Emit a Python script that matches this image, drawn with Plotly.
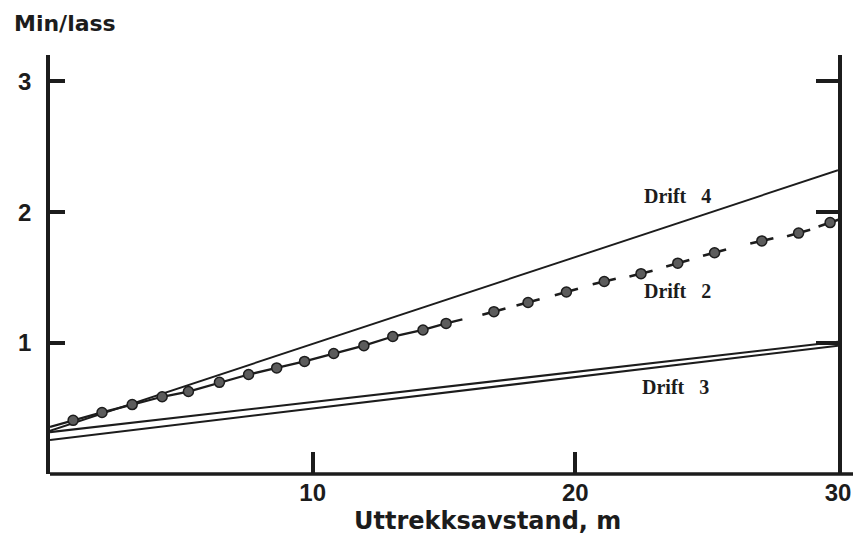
import numpy as np
import plotly.graph_objects as go

# ---- data ----
x_ticks = [10, 20, 30]
x_tick_labels = ["10", "20", "30"]
y_ticks = [1, 2, 3]
y_tick_labels = ["1", "2", "3"]

# Drift 4 (straight line)
drift4_x = [0, 30]
drift4_y = [0.33, 2.32]

# Drift 3 (two nearly parallel lines)
drift3a_x = [0, 30]
drift3a_y = [0.32, 1.01]
drift3b_x = [0, 30]
drift3b_y = [0.26, 0.98]

# Drift 2, solid part with dots
drift2_start_x = [0.0]
drift2_start_y = [0.36]
drift2_solid_x = [0.88, 1.98, 3.13, 4.27, 5.27, 6.45, 7.56, 8.63, 9.69, 10.80, 11.95, 13.05, 14.20, 15.08]
drift2_solid_y = [0.41, 0.47, 0.53, 0.59, 0.63, 0.70, 0.76, 0.81, 0.86, 0.92, 0.98, 1.05, 1.10, 1.15]
drift2_end_x = [15.7]
drift2_end_y = [1.18]

# Drift 2, dashed part with dots
drift2_dash_x = [16.9, 18.2, 19.66, 21.1, 22.5, 23.9, 25.3, 27.1, 28.5, 29.7]
drift2_dash_y = [1.24, 1.31, 1.39, 1.47, 1.53, 1.61, 1.69, 1.78, 1.84, 1.92]

labels = ["Drift\u00a0\u00a0\u00a04", "Drift\u00a0\u00a0\u00a02", "Drift\u00a0\u00a0\u00a03"]
label_x = [22.55, 22.55, 22.45]
label_y = [2.12, 1.40, 0.665]

# ---- styling ----
INK = "#1c1c1c"
DOT = "#5c5c5c"
LW = 2.0
AXW = 3.5
X_RANGE = [0, 30]
Y_RANGE = [0, 3.2]

fig = go.Figure()

def line(x, y, width=LW):
    fig.add_trace(go.Scatter(x=x, y=y, mode="lines",
                             line=dict(color=INK, width=width),
                             hoverinfo="skip", showlegend=False))

line(drift4_x, drift4_y, 1.9)
line(drift3a_x, drift3a_y, 2.1)
line(drift3b_x, drift3b_y, 2.1)

# Drift 2 solid section
sx = drift2_start_x + drift2_solid_x + drift2_end_x
sy = drift2_start_y + drift2_solid_y + drift2_end_y
line(sx, sy, 2.3)

# Drift 2 dashed section: short dash centred on each dot, along local slope
dx = np.array(drift2_dash_x)
dy = np.array(drift2_dash_y)
slope = np.gradient(dy, dx)
half = 0.44
seg_x, seg_y = [], []
for xi, yi, si in zip(dx, dy, slope):
    seg_x += [xi - half, xi + half, None]
    seg_y += [yi - si * half, yi + si * half, None]
fig.add_trace(go.Scatter(x=seg_x, y=seg_y, mode="lines",
                         line=dict(color=INK, width=2.6),
                         hoverinfo="skip", showlegend=False, connectgaps=False))

# dots
fig.add_trace(go.Scatter(x=drift2_solid_x + drift2_dash_x,
                         y=drift2_solid_y + drift2_dash_y,
                         mode="markers",
                         marker=dict(size=10, color=DOT, line=dict(color=INK, width=1.5)),
                         hoverinfo="skip", showlegend=False))

# dummy trace on yaxis2 for the right axis
fig.add_trace(go.Scatter(x=[None], y=[None], yaxis="y2", showlegend=False))

# Drift labels
for t, lx, ly in zip(labels, label_x, label_y):
    fig.add_annotation(x=lx, y=ly, text=t, showarrow=False, xanchor="left", yanchor="middle",
                       font=dict(family="Liberation Serif", size=20, color=INK, weight="bold"))

W, H = 853, 534
ML, MR, MT, MB = 50, 0, 55, 60
plot_w = W - ML - MR
x_end_px = 838
dom_end = (x_end_px - ML) / plot_w
plot_h = H - MT - MB

tickfont = dict(family="Liberation Sans", size=24, color=INK, weight="bold")

fig.update_layout(
    width=W, height=H,
    margin=dict(l=ML, r=MR, t=MT, b=MB, autoexpand=False),
    paper_bgcolor="white", plot_bgcolor="white",
    xaxis=dict(range=X_RANGE, domain=[0, dom_end], showgrid=False, zeroline=False,
               showline=False, ticks="inside", ticklen=22, tickwidth=AXW, tickcolor=INK,
               tickvals=x_ticks, ticktext=x_tick_labels, tickfont=tickfont,
               ticklabelstandoff=2, fixedrange=True, automargin=False),
    yaxis=dict(range=Y_RANGE, showgrid=False, zeroline=False,
               showline=True, linewidth=AXW, linecolor=INK, ticks="inside", ticklen=15,
               tickwidth=AXW, tickcolor=INK, tickvals=y_ticks, ticktext=y_tick_labels,
               tickfont=tickfont, ticklabelstandoff=10, fixedrange=True, automargin=False),
    yaxis2=dict(range=Y_RANGE, overlaying="y", side="right", anchor="x", showgrid=False,
                zeroline=False, showline=True, linewidth=AXW, linecolor=INK,
                ticks="inside", ticklen=22, tickwidth=AXW, tickcolor=INK,
                tickvals=y_ticks, showticklabels=False, fixedrange=True, automargin=False),
    showlegend=False,
)

# bottom axis line, running to the right edge
fig.add_shape(type="line", xref="paper", yref="paper", x0=0, x1=1, y0=0, y1=0,
              line=dict(color=INK, width=AXW))

# titles
fig.add_annotation(xref="paper", yref="paper", x=(12 - ML) / plot_w, y=(H - MB - 24) / plot_h,
                   xanchor="left", yanchor="middle", showarrow=False, text="Min/lass",
                   font=dict(family="DejaVu Sans", size=22, color=INK, weight="bold"))
fig.add_annotation(xref="paper", yref="paper", x=(488 - ML) / plot_w, y=(H - MB - 521) / plot_h,
                   xanchor="center", yanchor="middle", showarrow=False, text="Uttrekksavstand, m",
                   font=dict(family="DejaVu Sans", size=24, color=INK, weight="bold"))

fig.write_html("out.html")
